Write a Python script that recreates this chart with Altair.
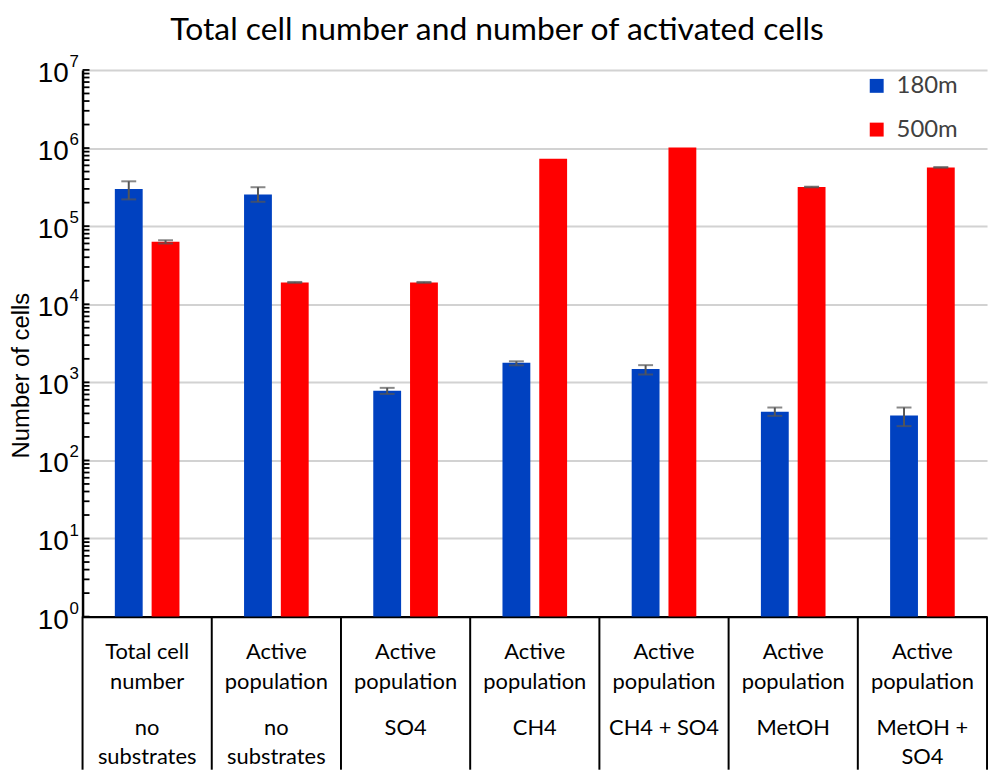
import altair as alt
import pandas as pd

# ---- data ----
label_top = ["Total cell\nnumber", "Active\npopulation", "Active\npopulation", "Active\npopulation",
             "Active\npopulation", "Active\npopulation", "Active\npopulation"]
label_bottom = ["no\nsubstrates", "no\nsubstrates", "SO4", "CH4", "CH4 + SO4", "MetOH", "MetOH +\nSO4"]
cats = ["Total cell number – no substrates", "Active population – no substrates",
        "Active population – SO4", "Active population – CH4", "Active population – CH4 + SO4",
        "Active population – MetOH", "Active population – MetOH + SO4"]

series = ["180m", "500m"]
v180 = [3.0e5, 2.55e5, 780, 1780, 1480, 420, 375]
lo180 = [2.2e5, 2.05e5, 710, 1650, 1260, 372, 275]
hi180 = [3.75e5, 3.15e5, 850, 1860, 1660, 476, 476]
v500 = [6.3e4, 1.9e4, 1.9e4, 7.3e5, 1.02e6, 3.17e5, 5.65e5]
lo500 = [6.0e4, 1.88e4, 1.88e4, None, None, 3.14e5, 5.6e5]
hi500 = [6.6e4, 1.93e4, 1.93e4, None, None, 3.2e5, 5.7e5]

y_ticks = [1, 10, 100, 1e3, 1e4, 1e5, 1e6, 1e7]
y_base = ["10"] * 8
y_exp = ["0", "1", "2", "3", "4", "5", "6", "7"]
minor_ticks = [m * 10 ** k for k in range(7) for m in range(1, 10)] + [1e7]

colors = ["#0041C0", "#FF0000"]

# ---- tables ----
rows = []
for i, c in enumerate(cats):
    rows.append({"cat": c, "series": "180m", "value": v180[i], "lo": lo180[i], "hi": hi180[i]})
    rows.append({"cat": c, "series": "500m", "value": v500[i], "lo": lo500[i], "hi": hi500[i]})
bars = pd.DataFrame(rows)
errs = bars.dropna(subset=["lo", "hi"])
labels = pd.DataFrame({"cat": cats, "top": label_top, "bottom": label_bottom})
seps = pd.DataFrame({"cat": cats})
last_sep = pd.DataFrame({"cat": [cats[-1]]})
ticks = pd.DataFrame({"v": minor_ticks})
ylab = pd.DataFrame({"v": y_ticks, "base": y_base, "exp": y_exp})

W, H = 910, 550

xscale = alt.Scale(domain=cats, paddingInner=0, paddingOuter=0)
yscale = alt.Scale(type="log", domain=[1, 1e7], nice=False)
xoff = alt.XOffset("series:N", scale=alt.Scale(domain=series, paddingInner=0.243, paddingOuter=0.878))

x_axis = alt.Axis(title=None, labels=False, ticks=False, grid=False, domain=True,
                  domainColor="black", domainWidth=2.5)
y_axis = alt.Axis(
    title="Number of cells", values=y_ticks, grid=True, gridColor="#d2d2d2", gridWidth=2,
    ticks=False, labels=False, domain=True, domainColor="black", domainWidth=2.5,
    titleFont="Liberation Sans", titleFontSize=24, titleFontWeight="normal", titleColor="black",
    titleAngle=-90, titleX=-61, titleY=307, titleAlign="center", titleBaseline="middle",
)

bar = alt.Chart(bars).mark_bar().encode(
    x=alt.X("cat:N", scale=xscale, axis=x_axis, sort=cats),
    xOffset=xoff,
    y=alt.Y("value:Q", scale=yscale, axis=y_axis),
    y2=alt.datum(1),
    color=alt.Color("series:N", scale=alt.Scale(domain=series, range=colors),
                    legend=alt.Legend(orient="none", legendX=787, legendY=4, title=None,
                                      symbolType="square", symbolSize=196, symbolStrokeWidth=0,
                                      labelFont="Lato", labelFontSize=24, labelColor="#404040",
                                      rowPadding=20, labelOffset=8, padding=0)),
)

err_rule = alt.Chart(errs).mark_rule(color="#555555", strokeWidth=2).encode(
    x=alt.X("cat:N", sort=cats), xOffset=xoff, y="lo:Q", y2="hi:Q")
err_top = alt.Chart(errs).mark_tick(color="#555555", thickness=2, size=15).encode(
    x=alt.X("cat:N", sort=cats), xOffset=xoff, y="hi:Q")
err_bot = alt.Chart(errs).mark_tick(color="#555555", thickness=2, size=15).encode(
    x=alt.X("cat:N", sort=cats), xOffset=xoff, y="lo:Q")

minor = alt.Chart(ticks).mark_rule(color="black", strokeWidth=1.8).encode(
    x=alt.value(0), x2=alt.value(7), y="v:Q")

lab_base = alt.Chart(ylab).mark_text(font="Liberation Sans", fontSize=28, color="black",
                                     align="right", baseline="middle", dy=4).encode(
    x=alt.value(-14), y="v:Q", text="base:N")
lab_exp = alt.Chart(ylab).mark_text(font="Liberation Sans", fontSize=17, color="black",
                                    align="left", baseline="middle", dy=-8).encode(
    x=alt.value(-13), y="v:Q", text="exp:N")

sep = alt.Chart(seps).mark_rule(color="black", strokeWidth=2).encode(
    x=alt.X("cat:N", sort=cats, bandPosition=0), y=alt.value(H), y2=alt.value(H + 154))
sep_last = alt.Chart(last_sep).mark_rule(color="black", strokeWidth=2).encode(
    x=alt.X("cat:N", sort=cats, bandPosition=1), y=alt.value(H), y2=alt.value(H + 154))

txt_top = alt.Chart(labels).mark_text(font="Lato", fontSize=22, color="black", lineBreak="\n",
                                      baseline="top", lineHeight=30).encode(
    x=alt.X("cat:N", sort=cats), y=alt.value(H + 26), text="top:N")
txt_bot = alt.Chart(labels).mark_text(font="Lato", fontSize=22, color="black", lineBreak="\n",
                                      baseline="top", lineHeight=29).encode(
    x=alt.X("cat:N", sort=cats), y=alt.value(H + 102), text="bottom:N")

chart = alt.layer(bar, err_rule, err_top, err_bot, minor, lab_base, lab_exp,
                  sep, sep_last, txt_top, txt_bot).properties(
    width=W, height=H,
    title=alt.TitleParams("Total cell number and number of activated cells", font="Lato",
                          fontSize=32, fontWeight="normal", color="black", anchor="middle",
                          dx=-38, offset=6),
    autosize=alt.AutoSizeParams(type="none"),
    padding={"left": 75, "top": 60, "right": 5, "bottom": 156},
).configure_view(stroke=None)

chart.save("out.html", embed_options={"renderer": "svg", "actions": False})
